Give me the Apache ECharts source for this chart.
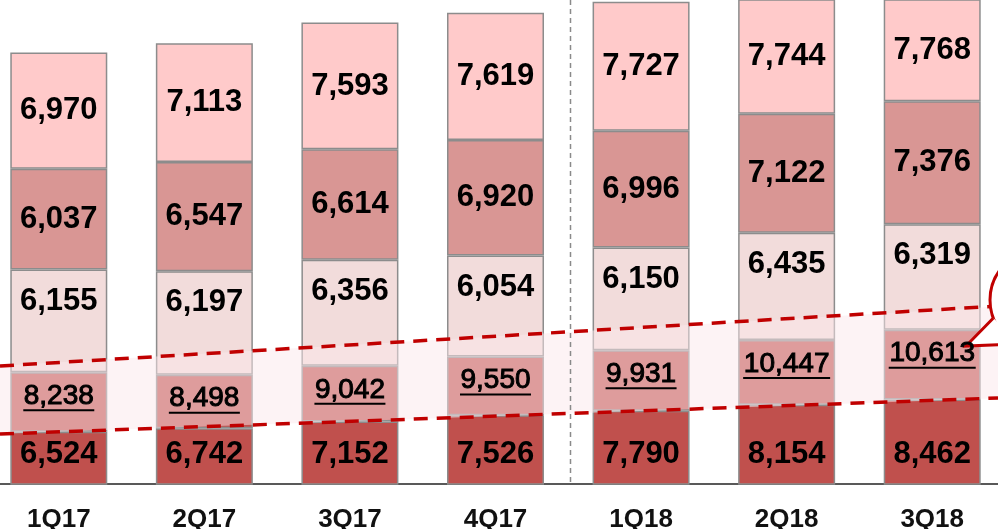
<!DOCTYPE html>
<html>
<head>
<meta charset="utf-8">
<script src="https://cdn.jsdelivr.net/npm/echarts@6/dist/echarts.min.js"></script>
<style>
  html, body { margin: 0; padding: 0; background: #fff; }
  #chart { width: 998px; height: 529px; }
</style>
</head>
<body>
<div id="chart"></div>
<script>
var quarters = ['1Q17', '2Q17', '3Q17', '4Q17', '1Q18', '2Q18', '3Q18'];
var seg1 = [6524, 6742, 7152, 7526, 7790, 8154, 8462];
var seg2 = [8238, 8498, 9042, 9550, 9931, 10447, 10613];
// the underlined block is not drawn to scale in the picture: heights read off it
var seg2Drawn = [3570, 3210, 3330, 3510, 3630, 3870, 4180];
var seg3 = [6155, 6197, 6356, 6054, 6150, 6435, 6319];
var seg4 = [6037, 6547, 6614, 6920, 6996, 7122, 7376];
var seg5 = [6970, 7113, 7593, 7619, 7727, 7744, 7768];

var FONT = '"Liberation Sans", Arial, sans-serif';
var chart = echarts.init(document.getElementById('chart'));

function fmt(v) { return v.toLocaleString('en-US'); }

// width of the underline under each underlined number
var ctx = document.createElement('canvas').getContext('2d');
ctx.font = '28px ' + FONT;
var rich = { v: { fontSize: 28, lineHeight: 26, color: '#000', fontFamily: FONT, textBorderColor: '#000', textBorderWidth: 1 } };
seg2.forEach(function (v, i) {
    rich['u' + i] = { width: Math.round(ctx.measureText(fmt(v)).width) + 1, height: 2, lineHeight: 2, fontSize: 1, backgroundColor: '#000' };
});

var colors = ['#c0504d', '#c0504d', '#f2dcdb', '#d99694', '#ffcaca'];
var drawn = [seg1, seg2Drawn, seg3, seg4, seg5];
var shown = [seg1, seg2, seg3, seg4, seg5];

var bigLabel = { fontSize: 31, fontWeight: 'bold', color: '#000', fontFamily: FONT };
var labels = [
    Object.assign({ position: 'insideBottom', distance: 14 }, bigLabel),
    { position: 'insideTop', distance: 11, rich: rich,
      formatter: function (p) { return '{v|' + fmt(seg2[p.dataIndex]) + '}\n{u' + p.dataIndex + '| }'; } },
    Object.assign({ position: 'insideTop', distance: 16 }, bigLabel),
    Object.assign({ position: 'inside' }, bigLabel),
    Object.assign({ position: 'inside' }, bigLabel)
];

var series = [];
// coloured blocks
drawn.forEach(function (d, k) {
    series.push({
        type: 'bar', stack: 'q', data: d, barWidth: 97, barGap: '-100%', z: 2,
        itemStyle: { color: colors[k], borderColor: '#8c8c8c', borderWidth: 1.5 },
        label: { show: false }, silent: true
    });
});
// labels on a transparent copy, above the band overlay
drawn.forEach(function (d, k) {
    var lab = Object.assign({ show: true }, labels[k]);
    if (!lab.formatter) {
        lab.formatter = (function (arr) { return function (p) { return fmt(arr[p.dataIndex]); }; })(shown[k]);
    }
    series.push({
        type: 'bar', stack: 'lab', data: d, barWidth: 97, barGap: '-100%', z: 20,
        itemStyle: { color: 'rgba(0,0,0,0)', borderWidth: 0 },
        label: lab, silent: true
    });
});

var red = '#c00000';
var option = {
    backgroundColor: '#fff',
    animation: false,
    grid: { left: -14, width: 1019, top: 0, bottom: 45, outerBoundsMode: 'none', containLabel: false },
    xAxis: {
        type: 'category', data: quarters,
        axisLine: { lineStyle: { color: '#595959', width: 2 } },
        axisTick: { show: false },
        axisLabel: { interval: 0, margin: 23, fontSize: 26, fontWeight: 'bold', color: '#111', fontFamily: FONT }
    },
    yAxis: { type: 'value', min: 3400, max: 32400, show: false, splitLine: { show: false } },
    series: series,
    graphic: [
        { type: 'polygon', z: 5, silent: true,
          shape: { points: [[-5, 366], [1005, 306], [1005, 398], [-5, 434]] },
          style: { fill: 'rgba(252,232,236,0.5)' } },
        { type: 'line', z: 6, silent: true, shape: { x1: 0, y1: 366, x2: 998, y2: 306 },
          style: { stroke: red, lineWidth: 3.5, lineDash: [14, 9] } },
        { type: 'line', z: 6, silent: true, shape: { x1: 0, y1: 434, x2: 998, y2: 398 },
          style: { stroke: red, lineWidth: 3.5, lineDash: [14, 9] } },
        { type: 'line', z: 6, silent: true, shape: { x1: 570.5, y1: 0, x2: 570.5, y2: 484 },
          style: { stroke: '#8a8a8a', lineWidth: 1.5, lineDash: [5, 4] } },
        // callout bubble cut by the right edge
        { type: 'circle', z: 7, silent: true, shape: { cx: 1040, cy: 300, r: 50 },
          style: { fill: '#fff', stroke: red, lineWidth: 3 } },
        { type: 'polygon', z: 8, silent: true, shape: { points: [[993.4, 318], [966, 346], [1020, 344]] },
          style: { fill: '#fff' } },
        { type: 'polyline', z: 9, silent: true, shape: { points: [[993.4, 318], [966, 346], [1020, 344]] },
          style: { stroke: red, lineWidth: 3, fill: null } }
    ]
};
chart.setOption(option);
</script>
</body>
</html>
